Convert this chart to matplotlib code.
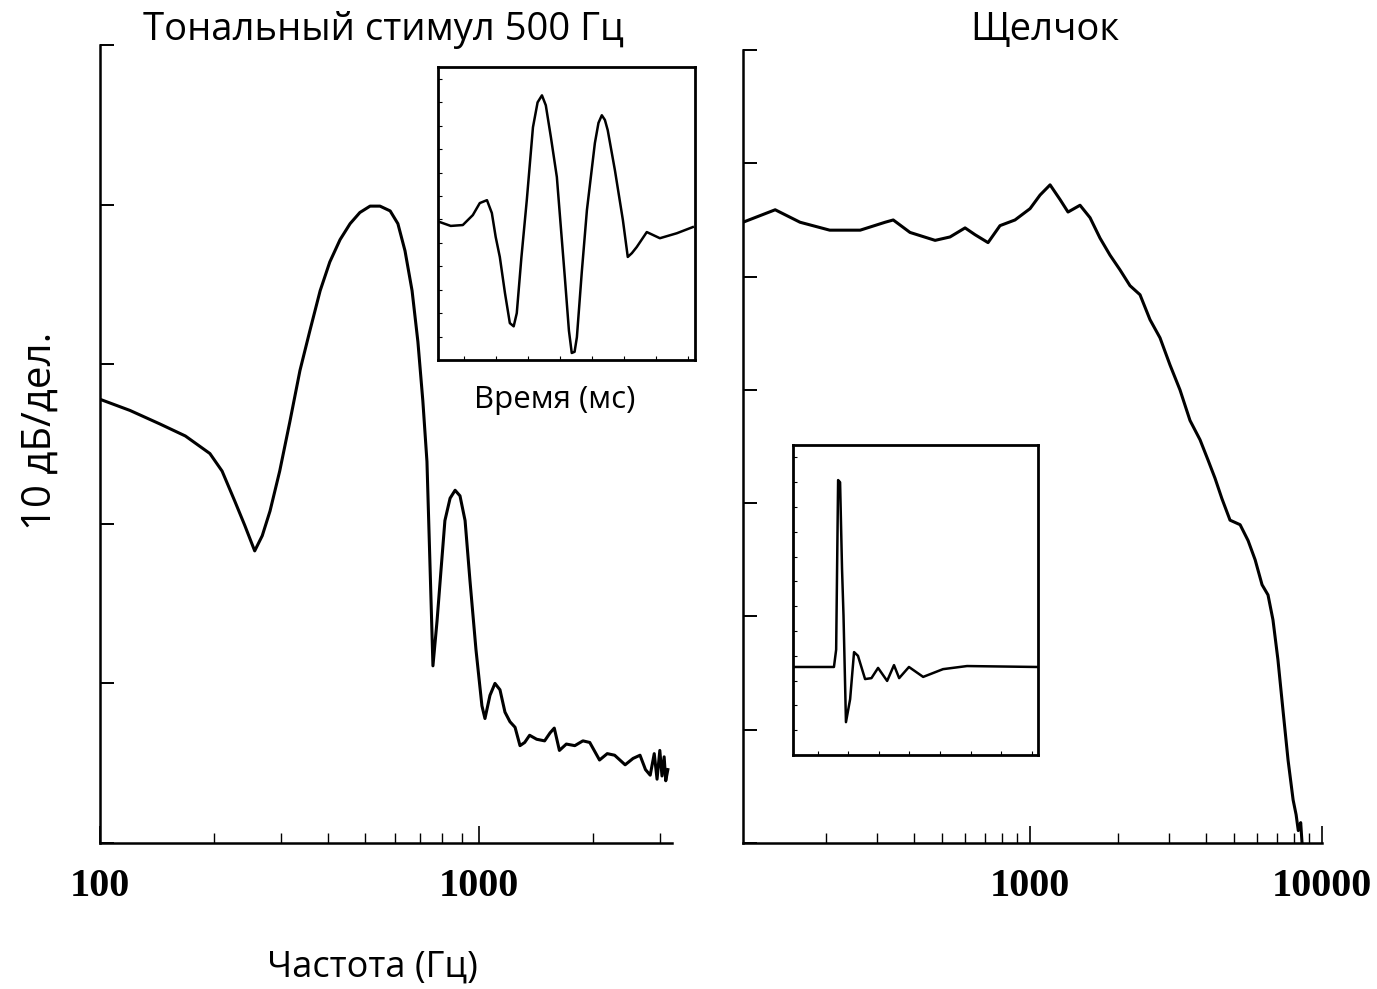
import numpy as np
import matplotlib
matplotlib.use("Agg")
from matplotlib import pyplot as plt
from matplotlib.ticker import LogLocator, NullFormatter, FixedLocator

# --- left panel: tone burst 500 Hz spectrum (dB, 10 dB/div, 0 = bottom)
tone_freq = [100, 120, 144, 168, 195, 210, 227, 241, 256, 268, 281, 298, 317,
             337, 358, 381, 404, 430, 457, 485, 516, 548, 583, 611, 638, 666,
             690, 711, 729, 742, 756, 775, 794, 813, 839, 865, 891, 919, 947,
             982, 1018, 1037, 1069, 1102, 1136, 1171, 1207, 1245, 1283, 1320,
             1360, 1420, 1490, 1540, 1580, 1630, 1700, 1790, 1880, 1960,
             2080, 2180, 2280, 2430, 2550, 2660, 2750, 2830, 2900, 2950,
             3000, 3040, 3080, 3110, 3150]
tone_db = [27.8, 27.1, 26.25, 25.5, 24.4, 23.3, 21.4, 19.9, 18.3, 19.25, 20.8,
           23.3, 26.4, 29.6, 32.1, 34.6, 36.4, 37.8, 38.8, 39.5, 39.9, 39.9,
           39.6, 38.8, 37.1, 34.6, 31.4, 27.7, 23.9, 17.7, 11.1, 13.9, 17.1,
           20.2, 21.6, 22.1, 21.75, 20.2, 16.4, 12.1, 8.6, 7.8, 9.25, 10.0,
           9.6, 8.2, 7.6, 7.25, 6.1, 6.3, 6.75, 6.5, 6.4, 6.9, 7.2, 5.8, 6.2,
           6.1, 6.4, 6.3, 5.2, 5.6, 5.5, 4.9, 5.3, 5.5, 4.6, 4.25, 5.6, 4.0,
           5.8, 4.2, 5.4, 3.9, 4.6]

# --- right panel: click spectrum (dB, 10 dB/div, 0 = bottom)
click_freq = [104, 134, 163, 206, 262, 319, 340, 388, 473, 532, 599, 648,
              718, 789, 888, 1000, 1082, 1171, 1267, 1349, 1483, 1605, 1736,
              1878, 2032, 2199, 2380, 2575, 2786, 3015, 3262, 3530, 3820,
              4070, 4300, 4540, 4840, 5240, 5580, 5900, 6230, 6530, 6790,
              7060, 7350, 7650, 7960, 8150, 8290, 8450, 8540]
click_db = [54.8, 55.9, 54.8, 54.1, 54.1, 54.8, 55.0, 53.9, 53.2, 53.5, 54.3,
            53.7, 53.0, 54.5, 55.0, 56.0, 57.2, 58.1, 56.8, 55.7, 56.3, 55.2,
            53.4, 51.9, 50.6, 49.2, 48.4, 46.2, 44.6, 42.2, 40.0, 37.3, 35.6,
            33.8, 32.2, 30.4, 28.5, 28.1, 26.7, 25.0, 22.8, 21.9, 19.7, 16.2,
            11.7, 7.3, 3.8, 2.5, 1.1, 1.8, 0.0]

# --- insets: waveforms (time in ms, amplitude in arbitrary units)
tone_t = [0.08, 0.5, 0.97, 1.36, 1.63, 1.91, 2.10, 2.25, 2.41, 2.61, 2.80,
          2.95, 3.07, 3.25, 3.46, 3.70, 3.88, 4.05, 4.20, 4.40, 4.63, 4.94,
          5.10, 5.21, 5.32, 5.41, 5.60, 5.80, 6.11, 6.25, 6.38, 6.50, 6.61,
          6.89, 7.20, 7.39, 7.55, 7.74, 8.13, 8.64, 9.30, 9.92]
tone_amp = [47.1, 45.8, 46.1, 49.5, 53.6, 54.6, 50.2, 42.0, 35.2, 22.9, 12.6,
            11.5, 16.0, 35.0, 54.6, 79.5, 88.0, 90.4, 87.0, 76.0, 62.5, 28.3,
            10.0, 2.4, 2.8, 7.8, 30.0, 51.2, 74.1, 81.0, 83.6, 82.0, 78.5,
            64.8, 47.8, 35.2, 36.5, 38.6, 43.7, 41.6, 43.3, 45.4]

click_t = [0.0, 1.67, 1.76, 1.84, 1.92, 2.0, 2.06, 2.16, 2.33, 2.49, 2.65,
           2.94, 3.20, 3.47, 3.84, 4.12, 4.33, 4.73, 5.31, 6.12, 7.10, 9.96]
click_amp = [28.4, 28.4, 34.0, 88.7, 88.0, 60.0, 45.0, 10.6, 18.0, 33.2, 32.0,
             24.5, 24.8, 28.1, 23.9, 29.0, 24.8, 28.4, 25.2, 27.7, 28.7, 28.4]

ru_font = ["Open Sans", "DejaVu Sans"]
num_font = ["Liberation Serif", "DejaVu Serif"]


def style_main(ax, ymax):
    ax.set_xscale("log")
    ax.spines["top"].set_visible(False)
    ax.spines["right"].set_visible(False)
    for s in ("left", "bottom"):
        ax.spines[s].set_linewidth(1.8)
    ax.set_ylim(0, ymax)
    ax.set_yticks(np.arange(0, ymax + 1, 10))
    ax.set_yticklabels([])
    ax.tick_params(axis="y", direction="in", length=10, width=1.4)
    ax.tick_params(axis="x", which="major", direction="in", length=12,
                   width=1.2, pad=18)
    ax.tick_params(axis="x", which="minor", direction="in", length=7,
                   width=1.0)
    ax.xaxis.set_minor_locator(LogLocator(base=10, subs=np.arange(2, 10)))
    ax.xaxis.set_minor_formatter(NullFormatter())


def style_inset(ax):
    ax.set_xlim(0, 10)
    ax.set_ylim(0, 100)
    for s in ax.spines.values():
        s.set_linewidth(2.0)
    ax.set_xticks(np.arange(1, 10, 1.25))
    ax.set_yticks(np.arange(8, 100, 8))
    ax.set_xticklabels([])
    ax.set_yticklabels([])
    ax.tick_params(direction="in", length=3, width=0.8)


fig = plt.figure(figsize=(13.77, 9.89), dpi=100)

ax1 = fig.add_axes([0.0726, 0.1476, 0.4154, 0.807])
ax1.plot(tone_freq, tone_db, color="black", lw=2.2)
ax1.set_xlim(100, 3230)
style_main(ax1, 50)
ax1.xaxis.set_major_locator(FixedLocator([100, 1000]))
ax1.set_xticklabels(["100", "1000"], family=num_font, fontsize=29,
                    weight="bold")

ax2 = fig.add_axes([0.5396, 0.1476, 0.4205, 0.8018])
ax2.plot(click_freq, click_db, color="black", lw=2.2)
ax2.set_xlim(104, 10000)
style_main(ax2, 70)
ax2.xaxis.set_major_locator(FixedLocator([1000, 10000]))
ax2.set_xticklabels(["1000", "10000"], family=num_font, fontsize=29,
                    weight="bold")

ins1 = fig.add_axes([0.318, 0.636, 0.1866, 0.296])
ins1.plot(tone_t, tone_amp, color="black", lw=1.8)
style_inset(ins1)

ins2 = fig.add_axes([0.5759, 0.2366, 0.178, 0.3134])
ins2.plot(click_t, click_amp, color="black", lw=1.8)
style_inset(ins2)

# titles and labels placed like the original scan
fig.text(383 / 1377, 1 - 30 / 989, "Тональный стимул 500 Гц", family=ru_font,
         fontsize=27.5, ha="center", va="center")
fig.text(1045 / 1377, 1 - 30 / 989, "Щелчок", family=ru_font,
         fontsize=27.5, ha="center", va="center")
fig.text(372 / 1377, 1 - 968 / 989, "Частота (Гц)", family=ru_font,
         fontsize=26, ha="center", va="center")
fig.text(555 / 1377, 1 - 400 / 989, "Время (мс)", family=ru_font,
         fontsize=22.5, ha="center", va="center")
fig.text(40 / 1377, 1 - 431 / 989, "10 дБ/дел.", family=ru_font,
         fontsize=29, ha="center", va="center", rotation=90)

fig.savefig("out.png", dpi=100)
